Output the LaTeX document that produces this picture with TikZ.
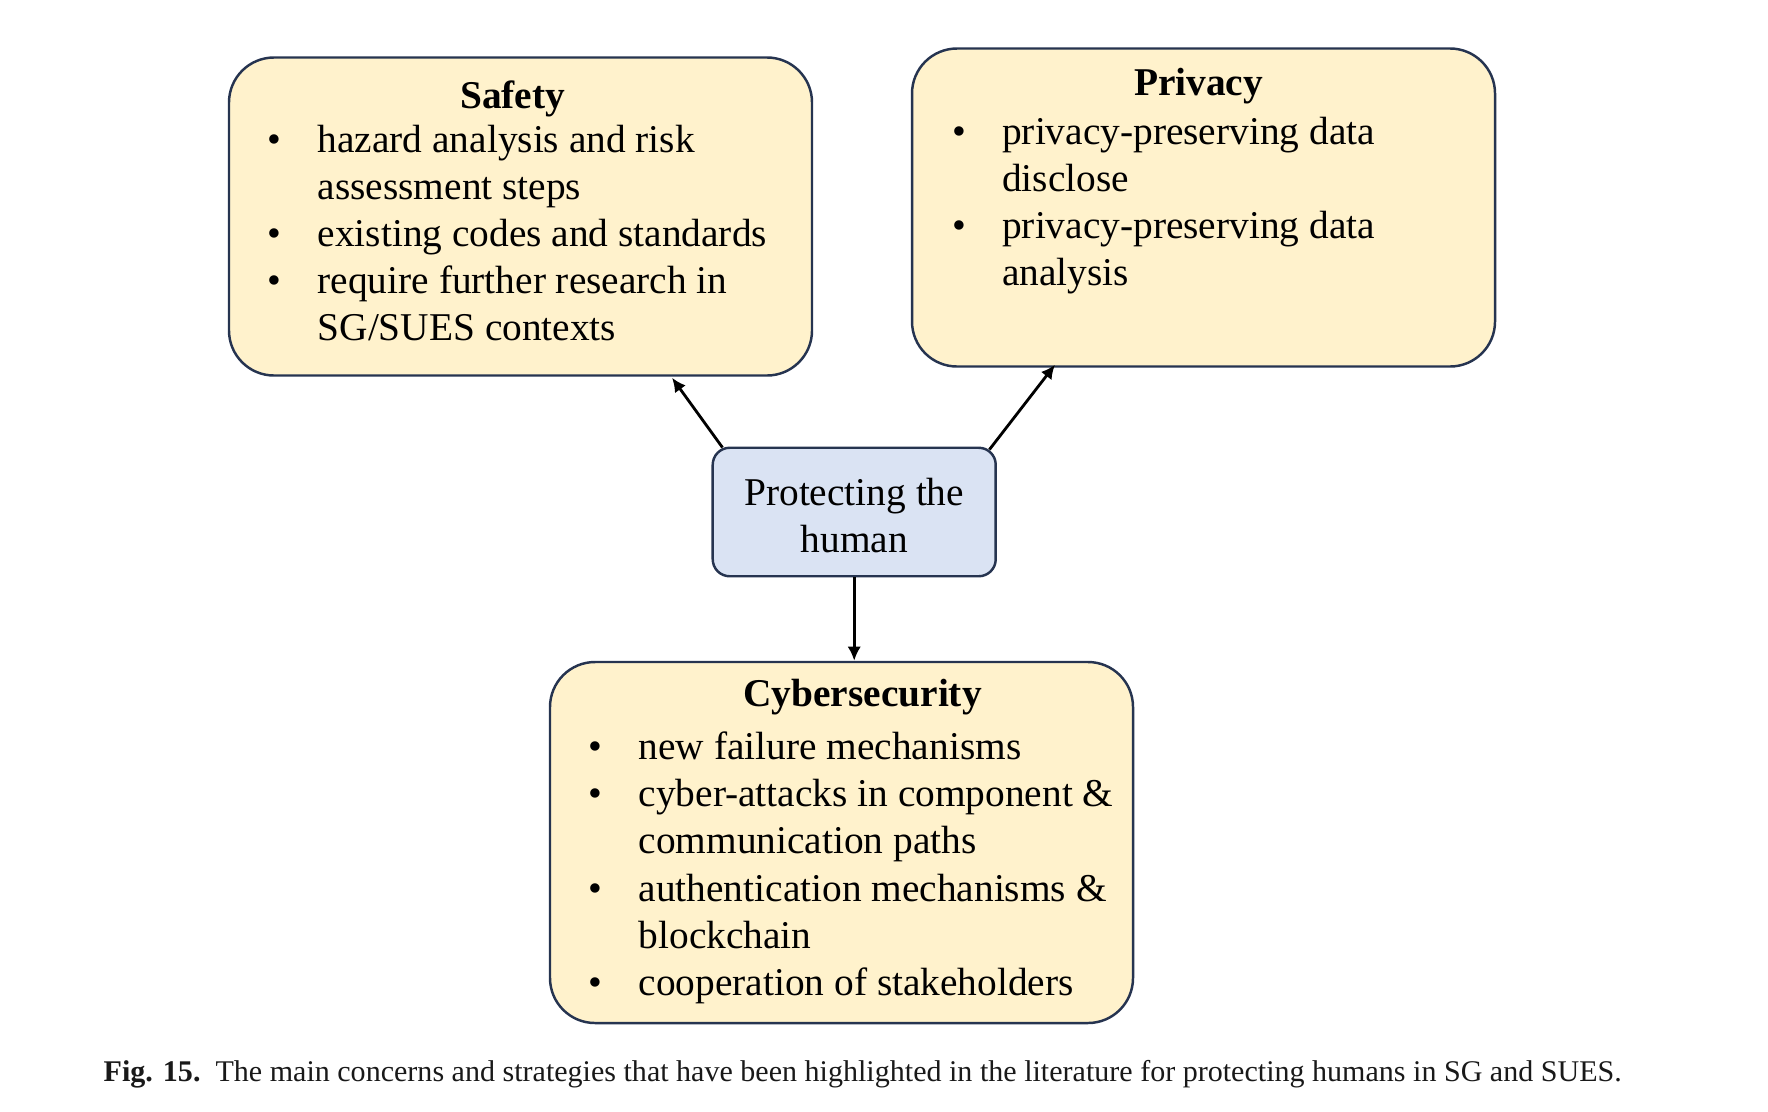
\documentclass[tikz,border=0pt]{standalone}
\usepackage{fontspec}
\setmainfont{Liberation Serif}
\usepackage{xcolor}
\definecolor{boxyellow}{RGB}{255,242,204}
\definecolor{boxblue}{RGB}{218,227,243}
\definecolor{boxedge}{RGB}{38,52,80}
\usetikzlibrary{arrows.meta, positioning, calc}
\newcommand{\bodysize}{\fontsize{11.2}{13.4}\selectfont}

\begin{document}
\begin{tikzpicture}[
    concern/.style={draw=boxedge, fill=boxyellow, line width=0.7pt, rounded corners=0.45cm,
      minimum width=5.83cm, minimum height=3.18cm, inner sep=0pt},
    core/.style={draw=boxedge, fill=boxblue, line width=0.7pt, rounded corners=0.17cm,
      minimum width=2.83cm, minimum height=1.285cm, inner sep=0pt,
      font=\bodysize, align=center},
    heading/.style={font=\bodysize\bfseries, anchor=base, inner sep=0pt},
    points/.style={font=\bodysize, anchor=base west, inner sep=0pt},
    link/.style={-{Latex[length=4pt,width=3.8pt]}, line width=0.8pt}]
  \useasboundingbox (0,0) rectangle (17.68,-11.11);
  % Three concern boxes
  \node[concern] (safety) at (5.205,-2.165) {};
  \node[concern] (privacy) at (12.035,-2.075) {};
  \node[concern, minimum height=3.61cm] (cyber) at (8.415,-8.425) {};
  % Headings
  \node[heading] (safetyhead) at (5.126,-1.087) {Safety};
  \node[heading] (privacyhead) at (11.986,-0.952) {Privacy};
  \node[heading] (cyberhead) at (8.626,-7.067) {Cybersecurity};
  % Bullet points
  \node[points] (safetylist) at (2.67,-1.522) {\begin{tabular}[t]{@{}p{0.5cm}@{}l@{}}
    \textbullet & hazard analysis and risk\\
                & assessment steps\\
    \textbullet & existing codes and standards\\
    \textbullet & require further research in\\
                & SG/SUES contexts
  \end{tabular}};
  \node[points] (privacylist) at (9.515,-1.442) {\begin{tabular}[t]{@{}p{0.5cm}@{}l@{}}
    \textbullet & privacy-preserving data\\
                & disclose\\
    \textbullet & privacy-preserving data\\
                & analysis
  \end{tabular}};
  \node[points] (cyberlist) at (5.88,-7.597) {\begin{tabular}[t]{@{}p{0.5cm}@{}l@{}}
    \textbullet & new failure mechanisms\\
    \textbullet & cyber-attacks in component \&\\
                & communication paths\\
    \textbullet & authentication mechanisms \&\\
                & blockchain\\
    \textbullet & cooperation of stakeholders
  \end{tabular}};
  % Centre box
  \node[core] (human) at (8.542,-5.12) {\rule{0pt}{9.6pt}Protecting the\\human};
  % Arrows out of the centre
  \draw[link] ($(human.north west)+(0.11,-0.01)$) -- ($(safety.south)+(1.515,-0.01)$);
  \draw[link] ($(human.north east)+(-0.075,-0.03)$) -- ($(privacy.south)+(-1.485,0.03)$);
  \draw[link] (human.south) -- (human.south |- cyber.north);
  % Caption
  \node[anchor=base west, inner sep=0pt, font=\fontsize{8.55}{10}\selectfont, text=black!90]
    (caption) at (1.03,-10.815) {\textbf{Fig. 15.}\ \ The main concerns and strategies that have been highlighted in the literature for protecting humans in SG and SUES.};
\end{tikzpicture}
\end{document}
